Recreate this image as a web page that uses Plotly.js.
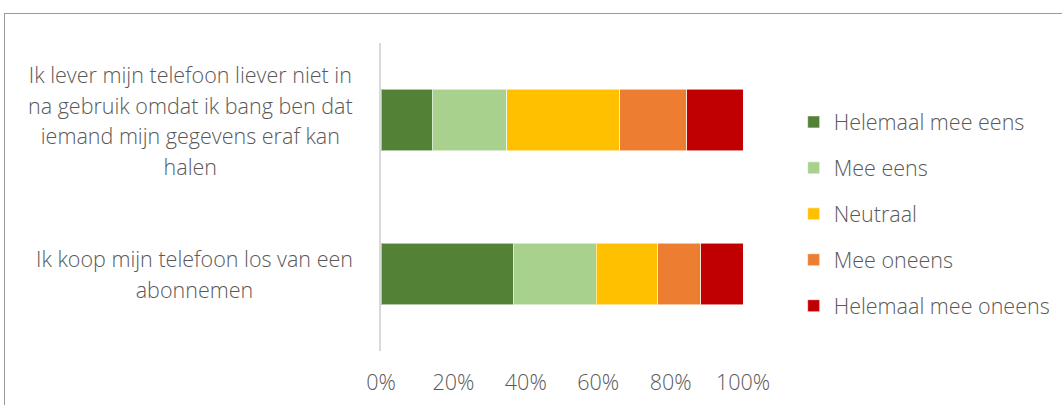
<!DOCTYPE html>
<html>
<head>
<meta charset="utf-8">
<script src="https://cdn.plot.ly/plotly-3.0.1.min.js"></script>
<style>
  html, body { margin: 0; padding: 0; background: #ffffff; overflow: hidden; }
  #wrap { position: relative; width: 1062px; height: 405px; }
  #frame { position: absolute; left: 4px; top: 13px; width: 1100px; height: 420px;
           border-left: 1.5px solid #9a9a9a; border-top: 1.5px solid #9a9a9a; box-sizing: border-box; }
  #chart { position: absolute; left: 0; top: 0; width: 1062px; height: 405px; }
</style>
</head>
<body>
<div id="wrap">
  <div id="frame"></div>
  <div id="chart"></div>
</div>
<script>
// Statements, each split into its wrapped lines
const statements = [
  ["Ik lever mijn telefoon liever niet in", "na gebruik omdat ik bang ben dat", "iemand mijn gegevens eraf kan", "halen"],
  ["Ik koop mijn telefoon los van een", "abonnemen"]
];
const categories = ["s1", "s2"];

// Answer scale and shares (%) per statement
const answers = ["Helemaal mee eens", "Mee eens", "Neutraal", "Mee oneens", "Helemaal mee oneens"];
const colors = ["#538135", "#a9d18e", "#ffc000", "#ed7d31", "#c00000"];
const helemaalMeeEens   = [14.1, 36.7];
const meeEens           = [20.6, 22.8];
const neutraal          = [31.2, 16.9];
const meeOneens         = [18.6, 11.9];
const helemaalMeeOneens = [15.5, 11.7];
const seriesValues = [helemaalMeeEens, meeEens, neutraal, meeOneens, helemaalMeeOneens];

const xTicks = [0, 20, 40, 60, 80, 100];

const fontFamily = "'Source Sans Pro', 'Open Sans', 'Noto Sans', sans-serif";
const textColor = "#595959";
const textSize = 21.5;

const traces = answers.map((name, i) => ({
  type: "bar",
  orientation: "h",
  name: name,
  legendgroup: name,
  x: seriesValues[i],
  y: categories,
  marker: { color: colors[i], line: { color: "rgba(255,255,255,0.55)", width: 1 } },
  hoverinfo: "name+x"
}));

// Centered multi-line category labels on the left
const annotations = statements.map((lines, i) => ({
  xref: "paper", yref: "y",
  x: -0.072, y: categories[i],
  xanchor: "right", yanchor: "middle",
  align: "center",
  showarrow: false,
  text: lines.map(l => "<span style='font-size:" + textSize + "px'>" + l + "</span>").join("<br>"),
  font: { family: fontFamily, size: 23.5, color: textColor, weight: 300 }
}));

const layout = {
  width: 1062, height: 405,
  margin: { l: 381, r: 319, t: 43, b: 54, pad: 0, autoexpand: false },
  paper_bgcolor: "rgba(0,0,0,0)",
  plot_bgcolor: "rgba(0,0,0,0)",
  barmode: "stack",
  bargap: 0.6,
  showlegend: true,
  font: { family: fontFamily, color: textColor, size: textSize, weight: 300 },
  xaxis: {
    range: [0, 100],
    tickvals: xTicks,
    ticktext: xTicks.map(v => v + "%"),
    showgrid: false, zeroline: false, showline: false,
    ticks: "outside", ticklen: 12, tickcolor: "rgba(0,0,0,0)",
    tickfont: { family: fontFamily, size: textSize, color: textColor, weight: 300 },
    fixedrange: true
  },
  yaxis: {
    type: "category",
    categoryorder: "array",
    categoryarray: categories,
    autorange: "reversed",
    showticklabels: false,
    showgrid: false, zeroline: false,
    showline: true, linecolor: "#d9d9d9", linewidth: 2,
    fixedrange: true
  },
  legend: {
    x: 1.14, xanchor: "left",
    y: 0.445, yanchor: "middle",
    traceorder: "grouped",
    tracegroupgap: 15,
    font: { family: fontFamily, size: textSize, color: textColor, weight: 300 },
    bgcolor: "rgba(0,0,0,0)",
    borderwidth: 0
  },
  annotations: annotations
};

Plotly.newPlot("chart", traces, layout, { displayModeBar: false, staticPlot: true });
</script>
</body>
</html>
